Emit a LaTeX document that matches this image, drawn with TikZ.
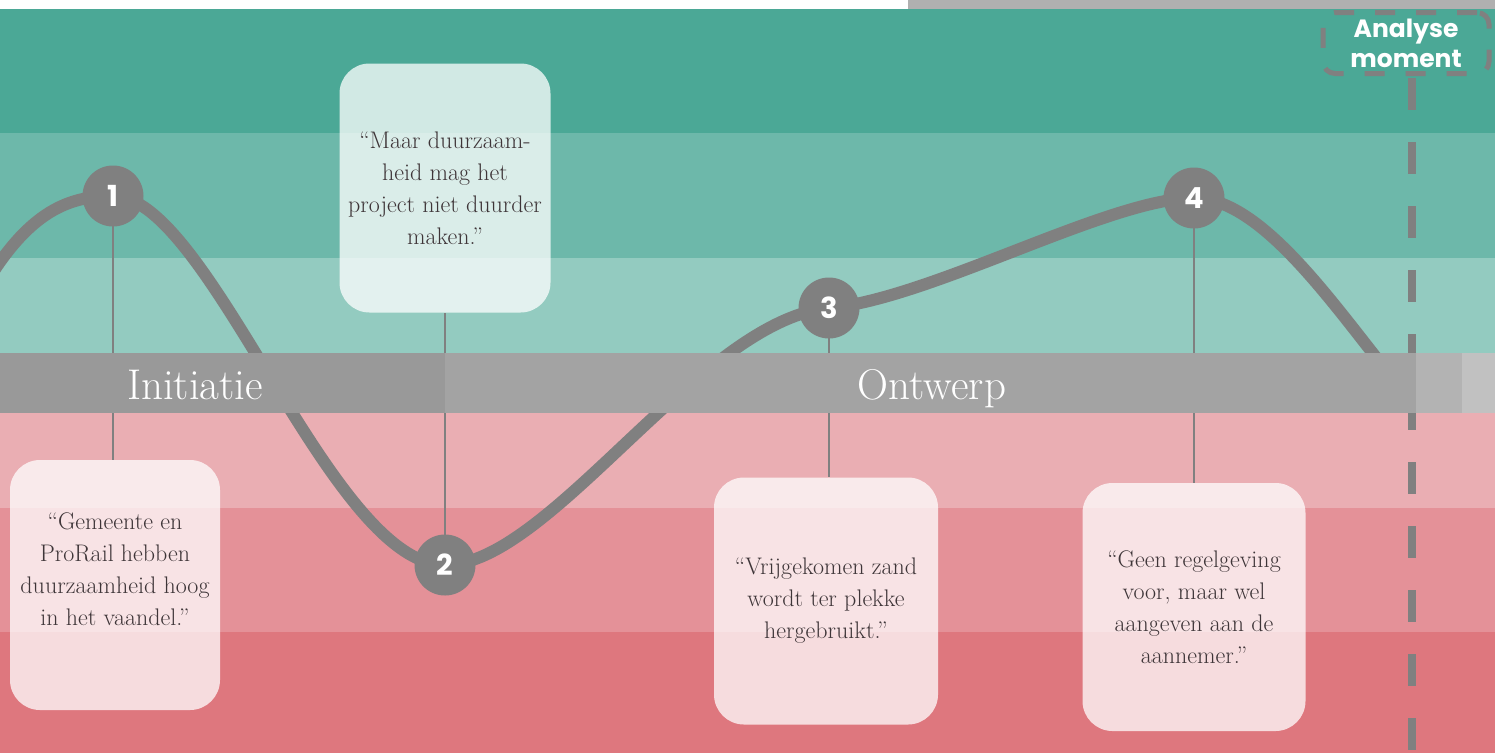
\documentclass[tikz,border=0pt]{standalone}
\usepackage{fontspec}
\newfontfamily\gothic{Poppins}
\usetikzlibrary{positioning}

\definecolor{bandA}{HTML}{4BA896}
\definecolor{bandB}{HTML}{6DB8AA}
\definecolor{bandC}{HTML}{93CBC0}
\definecolor{bandD}{HTML}{EAAEB3}
\definecolor{bandE}{HTML}{E49198}
\definecolor{bandF}{HTML}{DE777E}
\definecolor{barA}{HTML}{999999}
\definecolor{barB}{HTML}{A3A3A3}
\definecolor{barC}{HTML}{B3B3B3}
\definecolor{barD}{HTML}{C1C1C1}
\definecolor{stripgray}{HTML}{B0B0B0}
\definecolor{curvegray}{HTML}{808080}
\definecolor{quotegray}{HTML}{3E3538}

\begin{document}
\begin{tikzpicture}[x=1pt,y=-1pt,
	quotebox/.style={fill=white,fill opacity=0.75,text opacity=1,text=quotegray,
		rounded corners=30pt,align=center,inner sep=0pt,
		font=\fontsize{24}{32}\selectfont},
	milestone/.style={circle,fill=curvegray,minimum size=61pt,inner sep=0pt,
		text=white,font=\gothic\bfseries\fontsize{29}{29}\selectfont},
	phase/.style={text=white,anchor=base,font=\fontsize{43}{43}\selectfont},
	stem/.style={curvegray,line width=2pt}]
	
	\useasboundingbox (0,0) rectangle (1495,753);
	
	% Background bands
	\fill[white] (0,0) rectangle (908,9);
	\fill[stripgray] (908,0) rectangle (1495,9);
	\fill[bandA] (0,9) rectangle (1495,133);
	\fill[bandB] (0,133) rectangle (1495,258);
	\fill[bandC] (0,258) rectangle (1495,353);
	\fill[bandD] (0,413) rectangle (1495,508);
	\fill[bandE] (0,508) rectangle (1495,632);
	\fill[bandF] (0,632) rectangle (1495,753);
	
	% Analyse moment marker
	\node[draw=curvegray,line width=5pt,dash pattern=on 20pt off 21pt,
	rounded corners=12pt,minimum width=166pt,minimum height=61pt,
	text=white,align=center,font=\gothic\bfseries\fontsize{25}{30}\selectfont]
	(analyse) at (1406,43) {Analyse\\moment};
	
	% Quotes
	\node[quotebox,minimum width=210pt,minimum height=250pt] (q1) at (115,585)
	{``Gemeente en\\ProRail hebben\\duurzaamheid hoog\\in het vaandel.''\\\mbox{}};
	\node[quotebox,minimum width=211pt,minimum height=249pt] (q2) at (445,188)
	{``Maar duurzaam-\\heid mag het\\project niet duurder\\maken.''};
	\node[quotebox,minimum width=224pt,minimum height=247pt] (q3) at (826,601)
	{``Vrijgekomen zand\\wordt ter plekke\\hergebruikt.''};
	\node[quotebox,minimum width=223pt,minimum height=248pt] (q4) at (1194,607)
	{``Geen regelgeving\\voor, maar wel\\aangeven aan de\\aannemer.''};
	
	% The course of the process
	\coordinate (p1) at (113,196);
	\coordinate (p2) at (445,565);
	\coordinate (p3) at (829,308);
	\coordinate (p4) at (1194,198);
	\draw[curvegray,line width=12pt]
	(-15,285) .. controls (30,210) and (70,196) .. (p1)
	.. controls (210,196) and (330,565) .. (p2)
	.. controls (550,565) and (700,320) .. (p3)
	.. controls (930,299) and (1110,198) .. (p4)
	.. controls (1260,198) and (1330,300) .. (1390,375);
	
	% Stems from milestones to quotes
	\draw[stem] (p1) -- (p1 |- q1.north);
	\draw[stem] (p2) -- (p2 |- q2.south);
	\draw[stem] (p3) -- (p3 |- q3.north);
	\draw[stem] (p4) -- (p4 |- q4.north);
	
	% Moment of analysis
	\draw[curvegray,line width=8pt,dash pattern=on 32pt off 32pt]
	([xshift=6pt,yshift=-2pt]analyse.south) -- ++(0,690);
	
	% Phase bar
	\fill[barA] (0,353) rectangle (445,413);
	\fill[barB] (445,353) rectangle (1416,413);
	\fill[barC] (1416,353) rectangle (1462,413);
	\fill[barD] (1462,353) rectangle (1495,413);
	\node[phase] (initiatie) at (195,399) {Initiatie};
	\node[phase] (ontwerp) at (932,399) {Ontwerp};
	
	% Milestones
	\node[milestone] (m1) at (p1) {1};
	\node[milestone] (m2) at (p2) {2};
	\node[milestone] (m3) at (p3) {3};
	\node[milestone] (m4) at (p4) {4};
	
\end{tikzpicture}
\end{document}
